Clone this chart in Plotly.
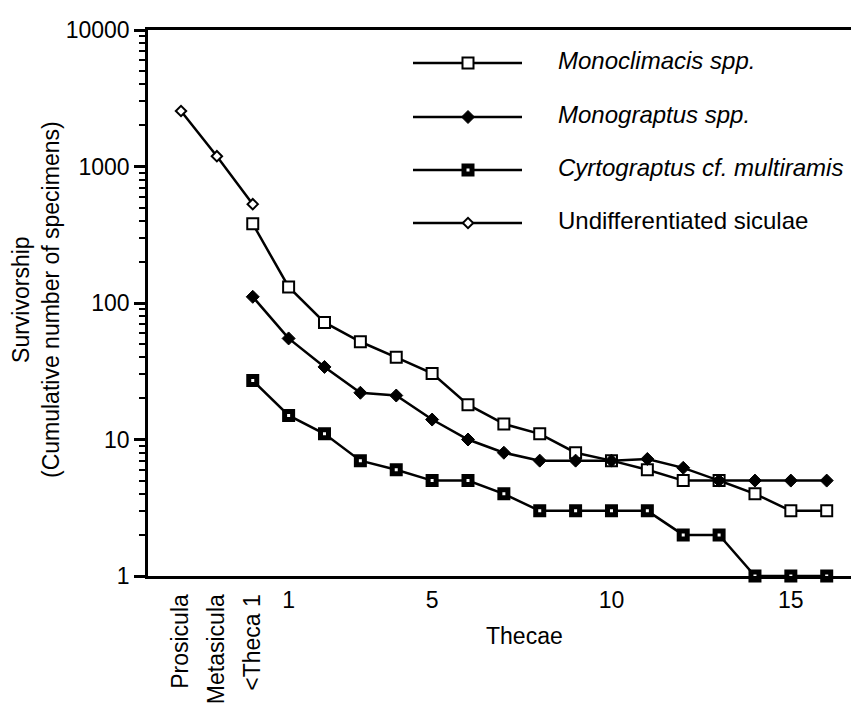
import plotly.graph_objects as go

# ---------------- data ----------------
stage_x = [-2, -1, 0]
stage_labels = ["Prosicula", "Metasicula", "<Theca 1"]
undiff_vals = [2550, 1190, 530]

thecae_x = [0, 1, 2, 3, 4, 5, 6, 7, 8, 9, 10, 11, 12, 13, 14, 15, 16]
monoclimacis = [380, 131, 72, 52, 40, 30.5, 18, 13, 11, 8, 7, 6, 5, 5, 4, 3, 3]
monograptus = [111, 55, 34, 22, 21, 14, 10, 8, 7, 7, 7, 7.2, 6.2, 5, 5, 5, 5]
cyrtograptus = [27, 15, 11, 7, 6, 5, 5, 4, 3, 3, 3, 3, 2, 2, 1, 1, 1]

x_tickvals = [1, 5, 10, 15]
x_ticktext = ["1", "5", "10", "15"]
y_tickvals = [1, 10, 100, 1000, 10000]
y_ticktext = ["1", "10", "100", "1000", "10000"]

series_names = ["<i>Monoclimacis spp.</i>", "<i>Monograptus spp.</i>",
                "<i>Cyrtograptus cf. multiramis</i>", "Undifferentiated siculae"]

FONT = "Liberation Sans, Arial, Helvetica, sans-serif"

# ---------------- styles ----------------
styles = [
    dict(symbol="square", size=11, color="white", line=dict(color="black", width=2)),
    dict(symbol="diamond", size=10, color="black", line=dict(color="black", width=1)),
    dict(symbol="square", size=8, color="white", line=dict(color="black", width=5)),
    dict(symbol="diamond", size=8, color="white", line=dict(color="black", width=2)),
]
line_style = dict(color="black", width=2.5)

fig = go.Figure()

fig.add_trace(go.Scatter(x=thecae_x, y=monoclimacis, mode="lines+markers",
                         marker=styles[0], line=line_style, showlegend=False, cliponaxis=False))
fig.add_trace(go.Scatter(x=thecae_x, y=monograptus, mode="lines+markers",
                         marker=styles[1], line=line_style, showlegend=False, cliponaxis=False))
fig.add_trace(go.Scatter(x=thecae_x, y=cyrtograptus, mode="lines+markers",
                         marker=styles[2], line=line_style, showlegend=False, cliponaxis=False))
fig.add_trace(go.Scatter(x=stage_x, y=undiff_vals, mode="lines+markers", xaxis="x2",
                         marker=styles[3], line=line_style, showlegend=False, cliponaxis=False))

# ---------------- geometry (page has an 8px body margin) ----------------
OFF = 8
W, H = 851, 702
L, R, T, B = 140, 0, 22, 134
pw, ph = W - L - R, H - T - B


def px_x(sx):
    """screen pixel x -> plot-area fraction"""
    return (sx - OFF - L) / pw


def px_y(sy):
    """screen pixel y -> plot-area fraction"""
    return (H - B - (sy - OFF)) / ph


# ---------------- manual legend ----------------
leg_rows_px = [63, 117, 170, 223]
leg_x0, leg_xm, leg_x1, leg_text = px_x(413), px_x(468), px_x(522), px_x(556)
shapes = []
annotations = []
for i, name in enumerate(series_names):
    ry = px_y(leg_rows_px[i])
    shapes.append(dict(type="line", xref="x3", yref="y3", x0=leg_x0, x1=leg_x1,
                       y0=ry, y1=ry, line=dict(color="black", width=2.5), layer="below"))
    fig.add_trace(go.Scatter(x=[leg_xm], y=[ry], mode="markers", marker=styles[i],
                             xaxis="x3", yaxis="y3", showlegend=False, cliponaxis=False,
                             hoverinfo="skip"))
    annotations.append(dict(x=leg_text, y=px_y(leg_rows_px[i] - 3), xref="x3", yref="y3",
                            text=name, showarrow=False, xanchor="left", yanchor="middle",
                            font=dict(family=FONT, size=24, color="black")))

# axis titles
annotations.append(dict(x=px_x(524), xref="paper", y=px_y(636), yref="paper", text="Thecae",
                        showarrow=False, xanchor="center", yanchor="middle",
                        font=dict(family=FONT, size=23, color="black")))
annotations.append(dict(x=px_x(36), xref="paper", y=px_y(300), yref="paper",
                        text="Survivorship<br>(Cumulative number of specimens)",
                        textangle=-90, showarrow=False, xanchor="center", yanchor="middle",
                        font=dict(family=FONT, size=23, color="black")))

x_range = [-2.92, 16.9]

fig.update_layout(
    width=W, height=H,
    margin=dict(l=L, r=R, t=T, b=B, pad=0),
    paper_bgcolor="white", plot_bgcolor="white",
    font=dict(family=FONT, size=23, color="black"),
    showlegend=False,
    xaxis=dict(range=x_range, showgrid=False, zeroline=False,
               showline=True, linecolor="black", linewidth=2.5, mirror=True,
               tickvals=x_tickvals, ticktext=x_ticktext, tickangle=0,
               ticks="outside", ticklen=2, tickcolor="rgba(0,0,0,0)",
               tickfont=dict(family=FONT, size=23, color="black")),
    xaxis2=dict(range=x_range, overlaying="x", anchor="y", side="bottom",
                showgrid=False, zeroline=False, showline=False,
                tickvals=stage_x, ticktext=stage_labels, tickangle=-90,
                ticks="outside", ticklen=8, tickcolor="rgba(0,0,0,0)",
                tickfont=dict(family=FONT, size=23, color="black")),
    xaxis3=dict(range=[0, 1], overlaying="x", anchor="y3", visible=False),
    yaxis3=dict(range=[0, 1], overlaying="y", anchor="x3", visible=False),
    yaxis=dict(type="log", range=[0, 4], showgrid=False, zeroline=False,
               showline=True, linecolor="black", linewidth=2.5,
               tickvals=y_tickvals, ticktext=y_ticktext,
               ticks="outside", ticklen=11, tickwidth=2.5, tickcolor="black",
               minor=dict(ticks="outside", ticklen=6, tickwidth=2, tickcolor="black",
                          dtick="D1", showgrid=False),
               tickfont=dict(family=FONT, size=23, color="black")),
    shapes=shapes,
    annotations=annotations,
)

fig.write_html("out.html")
